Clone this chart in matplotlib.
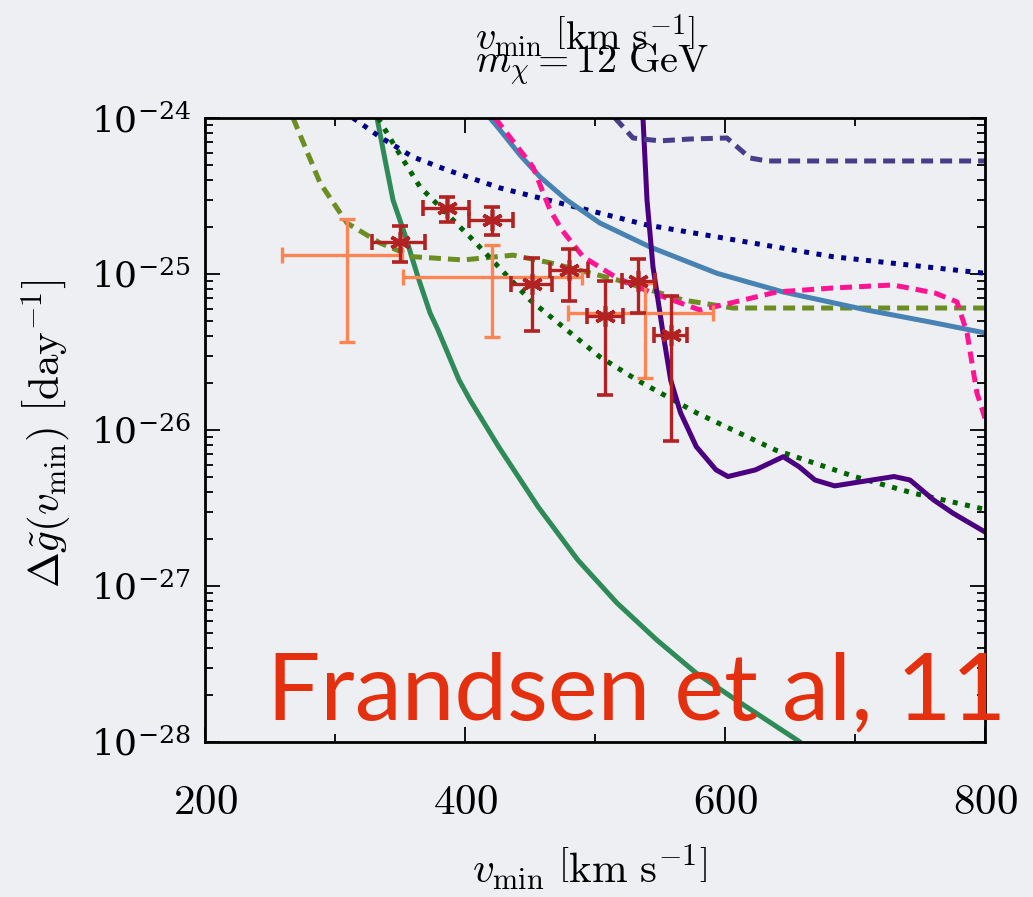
import numpy as np
import matplotlib
matplotlib.use('Agg')
import matplotlib.pyplot as plt
from matplotlib.ticker import FixedLocator, FixedFormatter, LogLocator, LogFormatterSciNotation, NullFormatter

plt.rcParams['mathtext.fontset'] = 'cm'
plt.rcParams['font.family'] = ['DejaVu Serif']

bg = '#eeeff2'

# bound curves, v_min in km/s and Delta g~ in 1/day
v_green = [332.3, 338.5, 344.6, 353.8, 363.8, 373.1, 379.2, 395.4, 403.8, 425.8,
           456.2, 486.7, 516.9, 547.5, 577.7, 608.5, 656.9]
g_green = [1.0e-24, 5.38e-25, 2.98e-25, 1.78e-25, 9.57e-26, 5.62e-26, 4.38e-26, 2.09e-26,
           1.56e-26, 7.82e-27, 3.22e-27, 1.47e-27, 7.78e-28, 4.51e-28, 2.77e-28, 1.86e-28, 1.01e-28]

v_navy = [313.8, 334.6, 360.0, 386.2, 426.9, 540.0, 683.1, 800.0]
g_navy = [1.0e-24, 7.55e-25, 5.62e-25, 4.64e-25, 3.56e-25, 2.06e-25, 1.29e-25, 1.01e-25]

v_olive = [267.7, 288.5, 309.2, 334.6, 360.0, 398.5, 436.9, 465.4, 516.9, 567.7, 606.2, 800.0]
g_olive = [1.0e-24, 3.83e-25, 2.12e-25, 1.58e-25, 1.29e-25, 1.23e-25, 1.32e-25,
           1.18e-25, 9.16e-26, 6.81e-26, 6.05e-26, 6.05e-26]

v_dgreen = [333.1, 347.7, 365.4, 406.2, 450.0, 503.8, 532.3, 577.9, 638.8, 699.6, 745.2, 800.0]
g_dgreen = [1.0e-24, 6.24e-25, 3.61e-25, 1.65e-25, 6.81e-26, 2.94e-26, 2.09e-26,
            1.29e-26, 7.44e-27, 5.03e-27, 3.93e-27, 3.10e-27]

v_steel = [419.2, 426.9, 442.3, 457.7, 478.2, 503.8, 542.3, 593.8, 644.6, 709.2, 760.0, 800.0]
g_steel = [1.0e-24, 8.38e-25, 5.79e-25, 4.19e-25, 2.98e-25, 2.12e-25, 1.49e-25, 1.01e-25,
           7.67e-26, 5.87e-26, 4.88e-26, 4.19e-26]

v_pink = [423.1, 452.3, 465.4, 474.6, 490.8, 516.9, 542.3, 580.8, 601.5, 640.0,
          683.1, 729.2, 761.5, 778.5, 786.2, 793.8, 800.0]
g_pink = [1.0e-24, 4.85e-25, 2.57e-25, 1.91e-25, 1.29e-25, 9.42e-26, 7.67e-26, 5.87e-26,
          6.43e-26, 7.67e-26, 8.13e-26, 8.50e-26, 7.55e-26, 6.62e-26, 4.19e-26, 1.73e-26, 1.19e-26]

v_indigo = [536.9, 540.0, 544.6, 552.3, 558.2, 565.8, 577.9, 593.1, 602.3, 623.5, 644.8,
            656.9, 669.2, 684.4, 699.6, 730.0, 742.3, 760.5, 775.6, 800.0]
g_indigo = [1.0e-24, 2.98e-25, 1.11e-25, 4.19e-26, 2.09e-26, 1.29e-26, 7.82e-27, 5.55e-27,
            5.03e-27, 5.55e-27, 6.74e-27, 5.82e-27, 4.78e-27, 4.38e-27, 4.59e-27, 5.03e-27,
            4.78e-27, 3.56e-27, 2.92e-27, 2.22e-27]

v_slate = [515.4, 529.2, 550.0, 573.1, 601.5, 619.2, 632.3, 800.0]
g_slate = [1.0e-24, 7.44e-25, 7.13e-25, 7.33e-25, 7.44e-25, 5.54e-25, 5.30e-25, 5.30e-25]

# binned measurements: centre, bin edges, value and 1-sigma range
red_v = [350.0, 386.2, 420.8, 451.5, 480.0, 507.7, 533.0, 558.5]
red_vlo = [328.5, 367.7, 403.0, 435.4, 465.4, 493.8, 520.8, 545.4]
red_vhi = [369.2, 403.0, 437.0, 467.0, 494.6, 521.5, 546.0, 570.8]
red_g = [1.60e-25, 2.65e-25, 2.22e-25, 8.59e-26, 1.06e-25, 5.38e-26, 9.06e-26, 4.07e-26]
red_glo = [1.19e-25, 2.16e-25, 1.78e-25, 4.31e-26, 6.71e-26, 1.67e-26, 5.65e-26, 8.5e-27]
red_ghi = [2.03e-25, 3.12e-25, 2.69e-25, 1.27e-25, 1.45e-25, 9.06e-26, 1.25e-25, 7.26e-26]

org_v = [309.0, 421.0, 538.5]
org_vlo = [259.0, 352.0, 479.5]
org_vhi = [351.3, 490.0, 591.0]
org_g = [1.325e-25, 9.6e-26, 5.6e-26]
org_glo = [3.68e-26, 3.96e-26, 2.16e-26]
org_ghi = [2.25e-25, 1.53e-25, 8.75e-26]

fig = plt.figure(figsize=(10.33, 8.97), dpi=100, facecolor=bg)
ax = fig.add_axes([0.1985, 0.1728, 0.755, 0.6957], facecolor=bg)

lw = 3.6
dash = (0, (2.4, 1.4))
dots = (0, (1, 1.5))
ax.plot(v_green, g_green, color='#2e8b57', lw=lw)
ax.plot(v_navy, g_navy, color='#00008b', lw=lw, ls=dots)
ax.plot(v_olive, g_olive, color='#6b8e23', lw=lw, ls=dash)
ax.plot(v_dgreen, g_dgreen, color='#006400', lw=lw, ls=dots)
ax.plot(v_steel, g_steel, color='#4682b4', lw=lw)
ax.plot(v_pink, g_pink, color='#ff1493', lw=lw, ls=dash)
ax.plot(v_indigo, g_indigo, color='#4b0082', lw=lw)
ax.plot(v_slate, g_slate, color='#483d8b', lw=lw, ls=dash)

def bars(v, vlo, vhi, g, glo, ghi, color, **kw):
    v = np.array(v); g = np.array(g)
    xerr = [v - np.array(vlo), np.array(vhi) - v]
    yerr = [g - np.array(glo), np.array(ghi) - g]
    ax.errorbar(v, g, xerr=xerr, yerr=yerr, color=color, ecolor=color, ls='none',
                elinewidth=2.4, capsize=5.5, capthick=2.4, **kw)

bars(org_v, org_vlo, org_vhi, org_g, org_glo, org_ghi, '#fe8553')
bars(red_v, red_vlo, red_vhi, red_g, red_glo, red_ghi, '#b22222',
     marker=(6, 2, 0), markersize=15, markeredgewidth=2.6)

ax.set_xlim(200, 800)
ax.set_ylim(1e-28, 1e-24)
ax.set_yscale('log')

ax.xaxis.set_major_locator(FixedLocator([200, 400, 600, 800]))
ax.xaxis.set_major_formatter(FixedFormatter(['$200$', '$400$', '$600$', '$800$']))
ax.xaxis.set_minor_locator(FixedLocator([300, 500, 700]))
ax.yaxis.set_major_locator(FixedLocator([1e-28, 1e-27, 1e-26, 1e-25, 1e-24]))
ax.yaxis.set_major_formatter(LogFormatterSciNotation())
ax.yaxis.set_minor_locator(LogLocator(base=10, subs=np.arange(2, 10), numticks=10))
ax.yaxis.set_minor_formatter(NullFormatter())

ax.tick_params(which='both', direction='in', top=True, right=True, width=1.3, color='black')
ax.tick_params(which='major', length=11)
ax.tick_params(which='minor', length=5.5)
ax.tick_params(axis='x', which='major', labelsize=31, pad=28)
ax.tick_params(axis='y', which='major', labelsize=26, pad=10)
for s in ax.spines.values():
    s.set_linewidth(2.0)

fig.text(0.571, 0.0156, r'$v_{\rm min}\ \left[{\rm km\ s}^{-1}\right]$', fontsize=31,
         ha='center', va='baseline')
fig.text(0.044, 0.517, r'$\Delta\tilde{g}(v_{\rm min})\ \left[{\rm day}^{-1}\right]$',
         fontsize=31, rotation=90, ha='center', va='center')

# the two header lines overlap each other
fig.text(0.566, 0.944, r'$v_{\rm min}\ \left[{\rm km\ s}^{-1}\right]$', fontsize=29,
         ha='center', va='baseline')
fig.text(0.573, 0.919, r'$m_\chi = 12\ {\rm GeV}$', fontsize=29, ha='center', va='baseline')

# credit line, sized so it spans from x=267 px to x=1006 px
credit = fig.text(0.2585, 0.1984, 'Frandsen et al, 11', family=['Lato', 'DejaVu Sans'],
                  fontsize=76, color='#e5300f', ha='left', va='baseline')
renderer = fig.canvas.get_renderer()
w = credit.get_window_extent(renderer).width
credit.set_fontsize(76 * 739.0 / w)

fig.savefig('out.png', dpi=100, facecolor=bg)
